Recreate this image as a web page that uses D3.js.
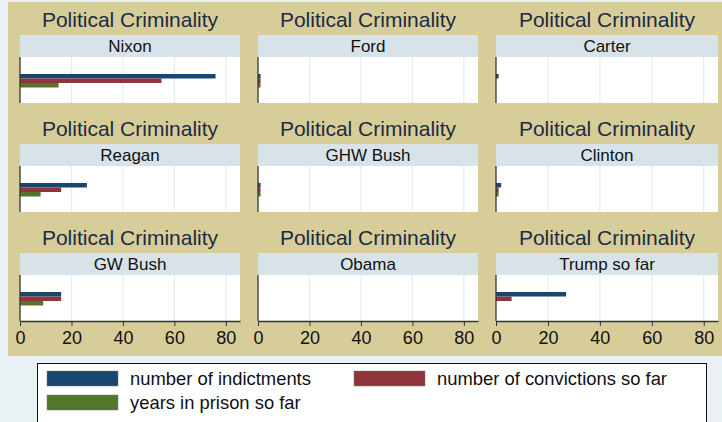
<!DOCTYPE html>
<html><head><meta charset="utf-8">
<script src="https://cdn.jsdelivr.net/npm/d3@7"></script>
<style>
html,body{margin:0;padding:0;background:#e9f1f5;}
svg{display:block;font-family:"Liberation Sans",Arial,sans-serif;}
</style></head>
<body>
<svg id="c" width="722" height="422"></svg>
<script>
const presidents = ["Nixon","Ford","Carter","Reagan","GHW Bush","Clinton","GW Bush","Obama","Trump so far"];
const indictments = [76,1,1,26,1,2,16,0,27];
const convictions = [55,1,0,16,1,1,16,0,6];
const prisonYears = [15,1,0,8,1,1,9,0,0];
const seriesNames = ["number of indictments","number of convictions so far","years in prison so far"];
const seriesColors = ["#1a476f","#90353b","#55752f"];
const xTicks = [0,20,40,60,80];
const panelTitle = "Political Criminality";

const svg = d3.select("#c");
svg.append("rect").attr("x",0).attr("y",0).attr("width",722).attr("height",422).attr("fill","#e9f1f5");
svg.append("rect").attr("x",8).attr("y",2).attr("width",714).attr("height",354).attr("fill","#d7cd98");

const colX = [[20,240],[258,478],[496,718]];
const rowY = [0,109,218];
const series = [indictments, convictions, prisonYears];

presidents.forEach((p,i)=>{
  const c = i%3, r = Math.floor(i/3);
  const x0 = colX[c][0], x1 = colX[c][1];
  const oy = rowY[r];
  const stripTop = 35+oy, stripBot = 57+oy, plotBot = 103+oy;
  const g = svg.append("g");
  const x = d3.scaleLinear().domain([0,85.5]).range([x0,x1]);
  g.append("text").attr("x",(x0+x1)/2).attr("y",27+oy).attr("text-anchor","middle")
    .attr("font-size",21).attr("fill","#1c2a44").text(panelTitle);
  g.append("rect").attr("x",x0).attr("y",stripTop).attr("width",x1-x0).attr("height",stripBot-stripTop).attr("fill","#d7e3e8");
  g.append("text").attr("x",(x0+x1)/2).attr("y",stripTop+17).attr("text-anchor","middle")
    .attr("font-size",17).attr("fill","#111").text(p);
  g.append("rect").attr("x",x0).attr("y",stripBot).attr("width",x1-x0).attr("height",plotBot-stripBot).attr("fill","#ffffff");
  g.selectAll("line.grid").data(xTicks.slice(1)).join("line")
    .attr("x1",d=>x(d)).attr("x2",d=>x(d)).attr("y1",stripBot).attr("y2",plotBot)
    .attr("stroke","#e4edf0").attr("stroke-width",1.2);
  const y = d3.scaleBand().domain([0,1,2]).range([stripBot+17, stripBot+30.5]);
  g.selectAll("rect.bar").data(series.map((s,k)=>({k, v:s[i]}))).join("rect")
    .attr("x",x(0)).attr("y",d=>y(d.k)).attr("width",d=>x(d.v)-x(0)).attr("height",y.bandwidth())
    .attr("fill",d=>seriesColors[d.k]);
  g.append("line").attr("x1",x0).attr("x2",x0).attr("y1",stripBot).attr("y2",plotBot)
    .attr("stroke","#333").attr("stroke-width",1.3);
  if (r===2){
    const ax = g.append("g").attr("transform",`translate(0,${plotBot})`)
      .call(d3.axisBottom(x).tickValues(xTicks).tickSize(5).tickPadding(5).tickSizeOuter(0));
    ax.select(".domain").attr("stroke","#333").attr("stroke-width",1.3);
    ax.selectAll(".tick line").attr("stroke","#333");
    ax.selectAll(".tick text").attr("font-size",18).attr("fill","#111")
      .attr("font-family","'Liberation Sans',Arial,sans-serif");
  }
});

const lg = svg.append("g");
lg.append("rect").attr("x",37.5).attr("y",363.5).attr("width",669).attr("height",70).attr("fill","#ffffff").attr("stroke","#111").attr("stroke-width",1);
const legPos = [[47,371],[354,371],[47,395]];
seriesNames.forEach((n,k)=>{
  lg.append("rect").attr("x",legPos[k][0]).attr("y",legPos[k][1]).attr("width",71).attr("height",15)
    .attr("fill",seriesColors[k]).attr("stroke","#777").attr("stroke-width",0.5);
  lg.append("text").attr("x",legPos[k][0]+83).attr("y",legPos[k][1]+14).attr("font-size",18.4)
    .attr("fill","#111").text(n);
});
</script>
</body></html>
